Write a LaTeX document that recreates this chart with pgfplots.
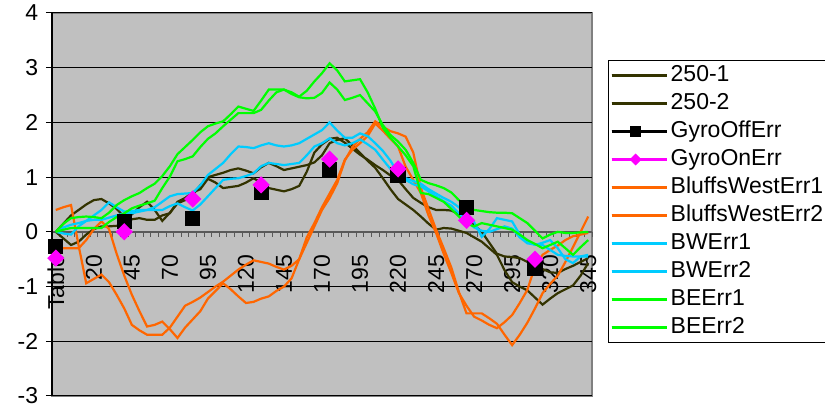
\documentclass[border=0pt]{standalone}
\usepackage{pgfplots}
\pgfplotsset{compat=1.18}
\usepackage{fontspec}
\setmainfont{Liberation Sans}
\definecolor{olv}{HTML}{333300}
\definecolor{org}{HTML}{FF6600}
\definecolor{sky}{HTML}{00CCFF}
\definecolor{grn}{HTML}{00FF00}
\definecolor{mag}{HTML}{FF00FF}
\definecolor{bg}{HTML}{C0C0C0}
\definecolor{brd}{HTML}{808080}
\newcommand{\F}{\fontsize{23bp}{27bp}\selectfont}
\pgfplotsset{
  layers/mylayers/.define layer set={axis background,axis grid,axis ticks,axis lines,main,axis tick labels,axis descriptions,axis foreground}{},
}
\begin{document}
\F
\begin{tikzpicture}
\begin{axis}[
 set layers=mylayers,
 at={(52bp,10bp)}, anchor=south west,
 scale only axis, width=540bp, height=383bp,
 xmin=-7.5, xmax=347.5, ymin=-3, ymax=4,
 axis x line*=middle, axis y line*=left,
 hide obscured x ticks=false, hide obscured y ticks=false,
 axis background/.style={fill=bg, draw=brd, line width=2bp},
 x axis line style={-, draw=black!65, line width=1.5bp},
 y axis line style={-, draw=black, line width=1.5bp},
 xtick={-5,20,...,345},
 xticklabels={Table,20,45,70,95,120,145,170,195,220,245,270,295,320,345},
 minor xtick={-7.5,-2.5,...,347.5},
 major x tick style={draw=none},
 minor x tick style={draw=black!65, line width=1bp},
 minor tick length=5bp,
 ytick={-3,-2,-1,0,1,2,3,4},
 yticklabels={-3,-2,-1,0,1,2,3,4},
 y tick style={draw=black, line width=1bp},
 major tick length=6bp,
 tick align=outside,
 ymajorgrids, major grid style={draw=black, line width=1bp},
 tick label style={font=\F},
 xticklabel style={rotate=90, anchor=east},
 xticklabel shift=9bp,
 unbounded coords=jump,
 every axis plot/.append style={line width=2.2bp},
 legend cell align=left,
 legend style={at={(axis description cs:1.0296,0.8773)}, anchor=north west,
   draw=black, line width=1bp, fill=white, font=\F,
   inner xsep=2bp, inner ysep=1bp, row sep=0bp,
   nodes={inner xsep=3bp, inner ysep=3bp, text height=17bp, text depth=5bp}},
 legend image code/.code={\path (0bp,0bp) -- (55bp,0bp);
   \draw[mark repeat=2,mark phase=2, every mark/.append style={scale=0.62}] plot coordinates {(0bp,0bp)(24bp,0bp)(48bp,0bp)};},
]
\addplot[olv] table[row sep=\\]{x y\\
-5 0.00\\ 0 0.15\\ 5 0.30\\ 10 0.40\\ 15 0.50\\ 20 0.58\\ 25 0.60\\ 30 0.52\\ 35 0.42\\ 40 0.27\\ 45 0.32\\ 50 0.45\\ 55 0.55\\ 60 0.40\\ 65 0.20\\ 70 0.35\\ 75 0.52\\ 80 0.58\\ 85 0.68\\ 90 0.85\\ 95 1.00\\ 100 1.04\\ 105 1.08\\ 110 1.13\\ 115 1.16\\ 120 1.12\\ 125 1.07\\ 130 1.18\\ 135 1.26\\ 140 1.20\\ 145 1.13\\ 150 1.16\\ 155 1.19\\ 160 1.22\\ 165 1.27\\ 170 1.40\\ 175 1.62\\ 180 1.68\\ 185 1.71\\ 190 1.58\\ 195 1.44\\ 200 1.30\\ 205 1.17\\ 210 0.98\\ 215 0.78\\ 220 0.60\\ 225 0.50\\ 230 0.40\\ 235 0.28\\ 240 0.15\\ 245 0.04\\ 250 0.07\\ 255 0.06\\ 260 0.02\\ 265 -0.02\\ 270 -0.10\\ 275 -0.18\\ 280 -0.30\\ 285 -0.42\\ 290 -0.70\\ 295 -0.92\\ 300 -1.00\\ 305 -1.07\\ 310 -1.20\\ 315 -1.33\\ 320 -1.22\\ 325 -1.12\\ 330 -1.05\\ 335 -0.98\\ 340 -0.80\\ 345 -0.57\\
};
\addlegendentry{250-1}
\addplot[olv] table[row sep=\\]{x y\\
-5 0.00\\ 0 -0.12\\ 5 -0.24\\ 10 -0.18\\ 15 -0.05\\ 20 0.05\\ 25 0.10\\ 30 0.10\\ 35 0.11\\ 40 0.15\\ 45 0.23\\ 50 0.25\\ 55 0.22\\ 60 0.22\\ 65 0.30\\ 70 0.34\\ 75 0.55\\ 80 0.62\\ 85 0.72\\ 90 0.78\\ 95 0.97\\ 100 0.90\\ 105 0.80\\ 110 0.82\\ 115 0.84\\ 120 0.90\\ 125 0.98\\ 130 0.90\\ 135 0.80\\ 140 0.77\\ 145 0.74\\ 150 0.78\\ 155 0.84\\ 160 1.10\\ 165 1.45\\ 170 1.60\\ 175 1.70\\ 180 1.72\\ 185 1.63\\ 190 1.52\\ 195 1.41\\ 200 1.32\\ 205 1.22\\ 210 1.13\\ 215 1.03\\ 220 0.95\\ 225 0.78\\ 230 0.62\\ 235 0.53\\ 240 0.45\\ 245 0.40\\ 250 0.40\\ 255 0.39\\ 260 0.32\\ 265 0.26\\ 270 0.12\\ 275 0.00\\ 280 -0.20\\ 285 -0.40\\ 290 -0.45\\ 295 -0.46\\ 300 -0.48\\ 305 -0.55\\ 310 -0.63\\ 315 -0.68\\ 320 -0.74\\ 325 -0.75\\ 330 -0.68\\ 335 -0.62\\ 340 -0.55\\ 345 -0.48\\
};
\addlegendentry{250-2}
\addplot[black, mark=square*, mark size=6.5bp] table[row sep=\\]{x y\\
-5 -0.27\\ 0 nan\\ 40 0.19\\ 45 nan\\ 85 0.25\\ 90 nan\\ 130 0.72\\ 135 nan\\ 175 1.13\\ 180 nan\\ 220 1.04\\ 225 nan\\ 265 0.45\\ 270 nan\\ 310 -0.66\\
};
\addlegendentry{GyroOffErr}
\addplot[mag, mark=square*, mark size=5bp, mark options={rotate=45}] table[row sep=\\]{x y\\
-5 -0.48\\ 0 nan\\ 40 0.00\\ 45 nan\\ 85 0.60\\ 90 nan\\ 130 0.86\\ 135 nan\\ 175 1.33\\ 180 nan\\ 220 1.15\\ 225 nan\\ 265 0.21\\ 270 nan\\ 310 -0.50\\
};
\addlegendentry{GyroOnErr}
\addplot[org] table[row sep=\\]{x y\\
-5 0.40\\ 0 0.45\\ 5 0.49\\ 10 -0.25\\ 15 -0.94\\ 20 -0.86\\ 25 -0.78\\ 30 -0.92\\ 35 -1.15\\ 40 -1.40\\ 45 -1.70\\ 50 -1.80\\ 55 -1.88\\ 60 -1.88\\ 65 -1.88\\ 70 -1.75\\ 75 -1.55\\ 80 -1.35\\ 85 -1.28\\ 90 -1.20\\ 95 -1.10\\ 100 -1.00\\ 105 -0.91\\ 110 -0.80\\ 115 -0.69\\ 120 -0.60\\ 125 -0.52\\ 130 -0.55\\ 135 -0.58\\ 140 -0.64\\ 145 -0.69\\ 150 -0.62\\ 155 -0.50\\ 160 -0.20\\ 165 0.10\\ 170 0.40\\ 175 0.62\\ 180 0.89\\ 185 1.30\\ 190 1.55\\ 195 1.70\\ 200 1.82\\ 205 2.02\\ 210 1.92\\ 215 1.84\\ 220 1.80\\ 225 1.74\\ 230 1.45\\ 235 0.80\\ 240 0.42\\ 245 0.04\\ 250 -0.30\\ 255 -0.65\\ 260 -1.10\\ 265 -1.49\\ 270 -1.49\\ 275 -1.49\\ 280 -1.58\\ 285 -1.68\\ 290 -1.88\\ 295 -2.07\\ 300 -1.88\\ 305 -1.66\\ 310 -1.40\\ 315 -1.12\\ 320 -0.95\\ 325 -0.80\\ 330 -0.55\\ 335 -0.28\\ 340 0.00\\ 345 0.28\\
};
\addlegendentry{BluffsWestErr1}
\addplot[org] table[row sep=\\]{x y\\
-5 -0.30\\ 0 -0.30\\ 5 -0.30\\ 10 -0.30\\ 15 -0.15\\ 20 0.05\\ 25 0.19\\ 30 0.05\\ 35 -0.40\\ 40 -0.80\\ 45 -1.15\\ 50 -1.45\\ 55 -1.73\\ 60 -1.70\\ 65 -1.64\\ 70 -1.78\\ 75 -1.94\\ 80 -1.75\\ 85 -1.60\\ 90 -1.45\\ 95 -1.22\\ 100 -1.08\\ 105 -0.94\\ 110 -1.05\\ 115 -1.18\\ 120 -1.30\\ 125 -1.28\\ 130 -1.22\\ 135 -1.18\\ 140 -1.08\\ 145 -1.00\\ 150 -0.85\\ 155 -0.50\\ 160 -0.10\\ 165 0.16\\ 170 0.45\\ 175 0.70\\ 180 0.95\\ 185 1.32\\ 190 1.50\\ 195 1.62\\ 200 1.75\\ 205 1.98\\ 210 1.85\\ 215 1.70\\ 220 1.56\\ 225 1.19\\ 230 0.95\\ 235 0.71\\ 240 0.30\\ 245 -0.02\\ 250 -0.40\\ 255 -0.75\\ 260 -1.12\\ 265 -1.35\\ 270 -1.55\\ 275 -1.62\\ 280 -1.70\\ 285 -1.76\\ 290 -1.65\\ 295 -1.52\\ 300 -1.30\\ 305 -1.06\\ 310 -0.63\\ 315 -0.42\\ 320 -0.33\\ 325 -0.25\\ 330 -0.15\\ 335 -0.08\\ 340 -0.05\\ 345 -0.02\\
};
\addlegendentry{BluffsWestErr2}
\addplot[sky] table[row sep=\\]{x y\\
-5 0.00\\ 0 -0.03\\ 5 -0.05\\ 10 0.10\\ 15 0.20\\ 20 0.30\\ 25 0.40\\ 30 0.54\\ 35 0.45\\ 40 0.37\\ 45 0.38\\ 50 0.40\\ 55 0.40\\ 60 0.45\\ 65 0.55\\ 70 0.65\\ 75 0.69\\ 80 0.70\\ 85 0.71\\ 90 0.85\\ 95 1.04\\ 100 1.15\\ 105 1.26\\ 110 1.42\\ 115 1.56\\ 120 1.55\\ 125 1.53\\ 130 1.58\\ 135 1.62\\ 140 1.58\\ 145 1.56\\ 150 1.58\\ 155 1.62\\ 160 1.70\\ 165 1.78\\ 170 1.86\\ 175 2.00\\ 180 1.85\\ 185 1.72\\ 190 1.72\\ 195 1.80\\ 200 1.75\\ 205 1.62\\ 210 1.48\\ 215 1.30\\ 220 1.07\\ 225 0.98\\ 230 0.93\\ 235 0.88\\ 240 0.78\\ 245 0.70\\ 250 0.62\\ 255 0.55\\ 260 0.45\\ 265 0.30\\ 270 0.18\\ 275 -0.09\\ 280 0.05\\ 285 0.25\\ 290 0.22\\ 295 0.19\\ 300 -0.05\\ 305 -0.18\\ 310 -0.24\\ 315 -0.20\\ 320 -0.15\\ 325 -0.30\\ 330 -0.50\\ 335 -0.57\\ 340 -0.45\\ 345 -0.42\\
};
\addlegendentry{BWErr1}
\addplot[sky] table[row sep=\\]{x y\\
-5 0.00\\ 0 0.08\\ 5 0.13\\ 10 0.16\\ 15 0.20\\ 20 0.22\\ 25 0.22\\ 30 0.26\\ 35 0.30\\ 40 0.34\\ 45 0.34\\ 50 0.37\\ 55 0.40\\ 60 0.40\\ 65 0.40\\ 70 0.47\\ 75 0.52\\ 80 0.45\\ 85 0.39\\ 90 0.50\\ 95 0.65\\ 100 0.80\\ 105 0.95\\ 110 0.97\\ 115 0.98\\ 120 1.02\\ 125 1.07\\ 130 1.20\\ 135 1.26\\ 140 1.24\\ 145 1.22\\ 150 1.24\\ 155 1.26\\ 160 1.40\\ 165 1.56\\ 170 1.62\\ 175 1.71\\ 180 1.62\\ 185 1.58\\ 190 1.62\\ 195 1.69\\ 200 1.60\\ 205 1.50\\ 210 1.32\\ 215 1.15\\ 220 1.02\\ 225 0.95\\ 230 0.87\\ 235 0.83\\ 240 0.74\\ 245 0.65\\ 250 0.56\\ 255 0.48\\ 260 0.34\\ 265 0.20\\ 270 0.08\\ 275 0.02\\ 280 0.00\\ 285 0.05\\ 290 0.10\\ 295 0.06\\ 300 -0.10\\ 305 -0.21\\ 310 -0.23\\ 315 -0.24\\ 320 -0.33\\ 325 -0.42\\ 330 -0.44\\ 335 -0.45\\ 340 -0.45\\ 345 -0.45\\
};
\addlegendentry{BWErr2}
\addplot[grn] table[row sep=\\]{x y\\
-5 0.00\\ 0 0.15\\ 5 0.25\\ 10 0.27\\ 15 0.28\\ 20 0.27\\ 25 0.25\\ 30 0.35\\ 35 0.49\\ 40 0.58\\ 45 0.65\\ 50 0.71\\ 55 0.80\\ 60 0.88\\ 65 1.02\\ 70 1.20\\ 75 1.42\\ 80 1.55\\ 85 1.68\\ 90 1.82\\ 95 1.93\\ 100 1.98\\ 105 2.02\\ 110 2.15\\ 115 2.29\\ 120 2.25\\ 125 2.21\\ 130 2.40\\ 135 2.60\\ 140 2.60\\ 145 2.60\\ 150 2.55\\ 155 2.47\\ 160 2.58\\ 165 2.75\\ 170 2.90\\ 175 3.08\\ 180 2.95\\ 185 2.75\\ 190 2.77\\ 195 2.79\\ 200 2.55\\ 205 2.25\\ 210 1.90\\ 215 1.72\\ 220 1.56\\ 225 1.40\\ 230 1.20\\ 235 0.71\\ 240 0.69\\ 245 0.62\\ 250 0.55\\ 255 0.42\\ 260 0.28\\ 265 0.15\\ 270 0.10\\ 275 0.16\\ 280 0.13\\ 285 0.10\\ 290 0.07\\ 295 0.04\\ 300 -0.05\\ 305 -0.15\\ 310 -0.22\\ 315 -0.30\\ 320 -0.24\\ 325 -0.18\\ 330 -0.30\\ 335 -0.42\\ 340 -0.28\\ 345 -0.15\\
};
\addlegendentry{BEErr1}
\addplot[grn] table[row sep=\\]{x y\\
-5 0.00\\ 0 0.04\\ 5 0.07\\ 10 0.07\\ 15 0.07\\ 20 0.07\\ 25 0.07\\ 30 0.18\\ 35 0.27\\ 40 0.34\\ 45 0.43\\ 50 0.48\\ 55 0.52\\ 60 0.57\\ 65 0.80\\ 70 1.01\\ 75 1.29\\ 80 1.33\\ 85 1.38\\ 90 1.55\\ 95 1.70\\ 100 1.80\\ 105 1.93\\ 110 2.05\\ 115 2.17\\ 120 2.17\\ 125 2.17\\ 130 2.23\\ 135 2.40\\ 140 2.55\\ 145 2.60\\ 150 2.52\\ 155 2.46\\ 160 2.44\\ 165 2.45\\ 170 2.54\\ 175 2.73\\ 180 2.60\\ 185 2.41\\ 190 2.45\\ 195 2.50\\ 200 2.35\\ 205 2.20\\ 210 1.95\\ 215 1.77\\ 220 1.65\\ 225 1.50\\ 230 1.26\\ 235 0.95\\ 240 0.89\\ 245 0.85\\ 250 0.80\\ 255 0.72\\ 260 0.58\\ 265 0.45\\ 270 0.40\\ 275 0.38\\ 280 0.36\\ 285 0.35\\ 290 0.35\\ 295 0.34\\ 300 0.25\\ 305 0.16\\ 310 0.02\\ 315 -0.12\\ 320 -0.05\\ 325 0.00\\ 330 -0.02\\ 335 -0.02\\ 340 -0.01\\ 345 0.00\\
};
\addlegendentry{BEErr2}
\end{axis}
\pgfresetboundingbox
\path[use as bounding box] (0,0) rectangle (825bp,406bp);
\end{tikzpicture}
\end{document}
